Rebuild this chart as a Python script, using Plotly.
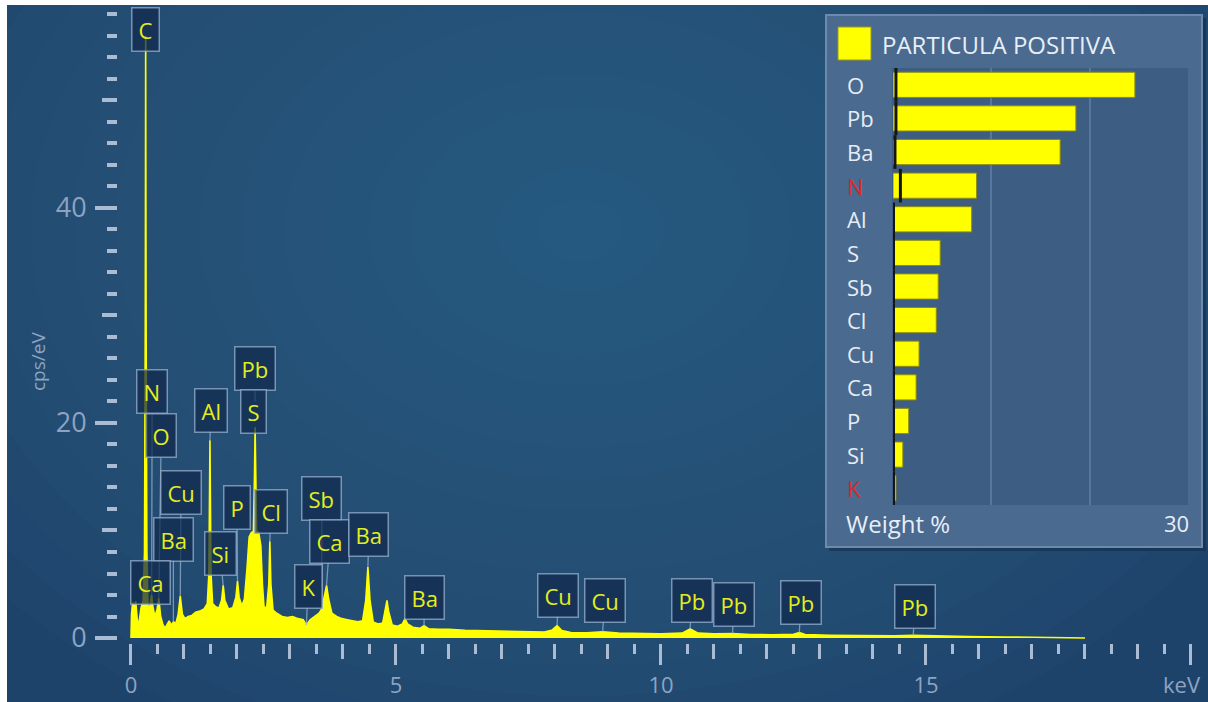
import plotly.graph_objects as go

W, H = 1208, 702
def px(x): return x / W
def py(y): return 1 - y / H

# ---------------- data ----------------
energy_kev = [0.00, 0.01, 0.03, 0.06, 0.09, 0.12, 0.15, 0.19, 0.23, 0.255, 0.27, 0.277, 0.285, 0.30,
              0.32, 0.35, 0.375, 0.39, 0.41, 0.45, 0.49, 0.525, 0.56, 0.60, 0.64, 0.68, 0.72, 0.76,
              0.80, 0.85, 0.89, 0.93, 0.97, 1.02, 1.08, 1.15, 1.22, 1.30, 1.38, 1.44, 1.47, 1.483,
              1.49, 1.497, 1.51, 1.54, 1.60, 1.66, 1.71, 1.74, 1.77, 1.84, 1.92, 1.98, 2.01, 2.04,
              2.09, 2.14, 2.19, 2.23, 2.27, 2.31, 2.33, 2.342, 2.355, 2.37, 2.41, 2.45, 2.48, 2.51,
              2.56, 2.60, 2.62, 2.64, 2.68, 2.75, 2.85, 2.95, 3.05, 3.15, 3.25, 3.31, 3.38, 3.47,
              3.55, 3.60, 3.65, 3.69, 3.73, 3.79, 3.88, 3.98, 4.08, 4.18, 4.28, 4.37, 4.43, 4.47,
              4.51, 4.57, 4.66, 4.75, 4.80, 4.83, 4.86, 4.93, 5.03, 5.12, 5.17, 5.22, 5.32, 5.45,
              5.53, 5.62, 5.80, 6.00, 6.30, 6.60, 7.00, 7.40, 7.80, 7.95, 8.04, 8.13, 8.30, 8.60,
              8.90, 9.20, 9.60, 10.0, 10.4, 10.55, 10.7, 11.0, 11.35, 11.7, 12.1, 12.5, 12.61, 12.72,
              13.2, 13.8, 14.4, 14.76, 15.2, 15.8, 16.5, 17.2, 17.8, 18.0]
counts_cps = [0.0, 2.2, 3.3, 2.9, 3.4, 1.6, 1.4, 2.8, 3.5, 8.0, 30.0, 56.0, 30.0, 8.0,
              3.2, 2.6, 3.6, 4.0, 3.0, 2.0, 2.6, 3.7, 2.0, 1.3, 0.9, 1.2, 1.6, 1.2,
              1.5, 1.4, 2.2, 3.9, 2.2, 1.8, 2.0, 2.1, 2.4, 2.5, 2.7, 3.2, 6.0, 14.0,
              18.4, 14.0, 6.0, 3.2, 2.9, 2.8, 3.5, 4.9, 3.5, 2.7, 2.8, 3.8, 5.3, 3.8,
              3.0, 3.6, 6.5, 9.4, 9.8, 9.9, 15.0, 19.6, 15.0, 9.9, 9.8, 8.6, 5.0, 2.9,
              2.8, 5.0, 9.0, 5.0, 2.6, 2.3, 2.0, 1.9, 2.0, 1.8, 1.7, 1.2, 1.7, 2.0,
              2.3, 2.7, 3.8, 4.9, 3.6, 2.3, 2.0, 1.8, 1.7, 1.6, 1.5, 1.6, 3.5, 6.6,
              3.5, 1.5, 1.3, 1.4, 2.6, 3.5, 2.5, 1.2, 1.1, 1.3, 1.8, 1.3, 1.0, 0.9,
              1.15, 0.85, 0.8, 0.8, 0.72, 0.68, 0.62, 0.58, 0.55, 0.75, 1.15, 0.7, 0.5, 0.48,
              0.58, 0.45, 0.42, 0.4, 0.45, 0.85, 0.45, 0.38, 0.42, 0.33, 0.3, 0.35, 0.5, 0.32,
              0.26, 0.22, 0.2, 0.25, 0.17, 0.13, 0.1, 0.06, 0.03, 0.0]

# peak labels: text, peak energy, peak height (cps)
peak_labels = ["C", "N", "O", "Cu", "Ba", "Ca", "Al", "Pb", "S", "Si", "P", "Cl", "Sb", "Ca",
               "K", "Ba", "Ba", "Cu", "Cu", "Pb", "Pb", "Pb", "Pb"]
peak_energy = [0.277, 0.39, 0.525, 0.93, 0.80, 0.34, 1.49, 2.342, 2.31, 1.74, 2.01, 2.62, 3.60, 3.69,
               3.31, 4.47, 5.53, 8.04, 8.90, 10.55, 11.35, 12.61, 14.76]
peak_height = [56.0, 4.0, 3.7, 3.9, 1.5, 3.0, 18.4, 22.0, 19.6, 4.9, 5.3, 9.0, 2.7, 4.9,
               1.2, 6.6, 1.15, 1.15, 0.58, 0.85, 0.42, 0.5, 0.25]
# label box centres (keV, cps) - layout positions
label_box_x = [0.283, 0.40, 0.57, 0.945, 0.80, 0.36, 1.51, 2.34, 2.31, 1.68, 2.00, 2.64, 3.60, 3.75,
               3.34, 4.49, 5.53, 8.06, 8.94, 10.58, 11.38, 12.64, 14.79]
label_box_y = [56.6, 22.9, 18.8, 13.5, 9.2, 5.2, 21.2, 25.1, 21.1, 7.9, 12.1, 11.8, 13.0, 9.0,
               4.8, 9.6, 3.8, 4.0, 3.5, 3.5, 3.1, 3.3, 2.9]

# inset: weight %
elements = ["O", "Pb", "Ba", "N", "Al", "S", "Sb", "Cl", "Cu", "Ca", "P", "Si", "K"]
weight_pct = [24.6, 18.6, 17.0, 8.5, 8.0, 4.8, 4.6, 4.4, 2.65, 2.35, 1.6, 1.0, 0.3]
sigma_mark = [0.3, 0.3, 0.2, 0.75, 0.05, 0.05, 0.05, 0.05, 0.05, 0.05, 0.05, 0.05, 0.05]
flagged = ["N", "K"]

x_tick_vals = [0, 5, 10, 15, 20]
x_tick_text = ["0", "5", "10", "15", ""]
y_tick_vals = [0, 20, 40]

# ---------------- styles ----------------
FONT = "Open Sans"
TICK_C = "#a9bcd4"
LABEL_C = "#8da4c1"
YEL = "#ffff00"
LBL_YEL = "#e3ee1c"

fig = go.Figure()

fig.add_trace(go.Scatter(
    x=energy_kev, y=counts_cps, mode="lines", fill="tozeroy",
    line=dict(color=YEL, width=1.6), fillcolor=YEL, hoverinfo="skip",
    xaxis="x", yaxis="y", showlegend=False))

# empty trace that registers the overlay tick axes
fig.add_trace(go.Scatter(x=[], y=[], xaxis="x3", yaxis="y3", showlegend=False, hoverinfo="skip"))

fig.add_trace(go.Bar(
    x=weight_pct, y=elements, orientation="h", marker=dict(color=YEL, line=dict(color="#8a8a10", width=1)),
    xaxis="x2", yaxis="y2", showlegend=False, name="PARTICULA POSITIVA"))

fig.add_trace(go.Scatter(
    x=sigma_mark, y=elements, mode="markers",
    marker=dict(symbol="line-ns", size=24, line=dict(color="#151515", width=3)),
    xaxis="x2", yaxis="y2", showlegend=False, hoverinfo="skip"))

# ---------------- shapes ----------------
shapes = []
# background radial glow
cx, cy = 580, 230
n = 18
for i in range(n):
    f = 1 - i / n
    rx, ry = 760 * f, 560 * f
    shapes.append(dict(type="circle", xref="paper", yref="paper", layer="below",
                       x0=px(cx - rx), x1=px(cx + rx), y0=py(cy + ry), y1=py(cy - ry),
                       fillcolor="rgba(72,128,185,0.028)", line=dict(width=0)))
# white border strips
shapes.append(dict(type="rect", xref="paper", yref="paper", layer="above",
                   x0=0, x1=px(7), y0=0, y1=1, fillcolor="white", line=dict(width=0)))
shapes.append(dict(type="rect", xref="paper", yref="paper", layer="above",
                   x0=0, x1=1, y0=py(5), y1=1, fillcolor="white", line=dict(width=0)))
# inset panel shadow + panel
shapes.append(dict(type="rect", xref="paper", yref="paper", layer="below",
                   x0=px(829), x1=px(1206), y0=py(551), y1=py(18),
                   fillcolor="rgba(10,25,50,0.35)", line=dict(width=0)))
shapes.append(dict(type="rect", xref="paper", yref="paper", layer="below",
                   x0=px(826), x1=px(1202), y0=py(547), y1=py(15),
                   fillcolor="#4a6a90", line=dict(color="#6d8aad", width=2)))
shapes.append(dict(type="rect", xref="paper", yref="paper", layer="below",
                   x0=px(892), x1=px(1188), y0=py(505), y1=py(68),
                   fillcolor="#3e5d83", line=dict(width=0)))
# legend swatch
shapes.append(dict(type="rect", xref="paper", yref="paper",
                   x0=px(838), x1=px(871), y0=py(60), y1=py(27),
                   fillcolor=YEL, line=dict(color="#9a9a20", width=1)))

# ---------------- annotations ----------------
ann = []
for t, ex, ey, bx, by in zip(peak_labels, peak_energy, peak_height, label_box_x, label_box_y):
    a = dict(text=t, xref="x", yref="y", font=dict(family=FONT, size=22, color=LBL_YEL),
             bgcolor="rgba(16,42,76,0.72)", bordercolor="rgba(150,175,205,0.75)", borderwidth=1.5,
             borderpad=6)
    if t == "C":
        a.update(x=bx, y=by, showarrow=False)
    else:
        a.update(x=ex, y=ey, ax=bx, ay=by, axref="x", ayref="y", showarrow=True,
                 arrowhead=0, arrowwidth=1.3, arrowcolor="rgba(150,175,205,0.75)")
    ann.append(a)

for el in elements:
    ann.append(dict(text=el, xref="paper", yref="y2", x=px(845), y=el, xanchor="left", yanchor="middle",
                    showarrow=False,
                    font=dict(family=FONT, size=22, color="#d82a2a" if el in flagged else "#e6edf5")))

TXT_C = "#e8eef6"
ann.append(dict(text="PARTICULA POSITIVA", xref="paper", yref="paper", x=px(880), y=py(45),
                xanchor="left", yanchor="middle", showarrow=False,
                font=dict(family=FONT, size=24, color=TXT_C)))
ann.append(dict(text="Weight %", xref="paper", yref="paper", x=px(844), y=py(523),
                xanchor="left", yanchor="middle", showarrow=False,
                font=dict(family=FONT, size=24, color=TXT_C)))
ann.append(dict(text="30", xref="paper", yref="paper", x=px(1191), y=py(523),
                xanchor="right", yanchor="middle", showarrow=False,
                font=dict(family=FONT, size=22, color=TXT_C)))
ann.append(dict(text="keV", xref="paper", yref="paper", x=px(1182), y=py(684),
                xanchor="center", yanchor="middle", showarrow=False,
                font=dict(family=FONT, size=22, color=LABEL_C)))
ann.append(dict(text="cps/eV", xref="paper", yref="paper", x=px(38), y=py(362), textangle=-90,
                xanchor="center", yanchor="middle", showarrow=False,
                font=dict(family=FONT, size=19, color=LABEL_C)))

x_rng = [-0.245, 20.01]
y_rng = [-0.465, 58.6]

fig.update_layout(
    width=W, height=H, autosize=False,
    margin=dict(l=0, r=0, t=0, b=0),
    paper_bgcolor="#1e436b", plot_bgcolor="rgba(0,0,0,0)",
    showlegend=False,
    xaxis=dict(domain=[px(118), px(1191.5)], range=x_rng, anchor="y",
               tickmode="array", tickvals=x_tick_vals, ticktext=x_tick_text,
               ticks="outside", ticklen=21, tickwidth=3, tickcolor=TICK_C,
               tickfont=dict(family=FONT, size=22, color=LABEL_C), ticklabelstandoff=2,
               showgrid=False, zeroline=False, showline=False, automargin=False,
               minor=dict(tickmode="array", tickvals=[i * 0.5 for i in range(0, 41) if i % 2 == 1],
                          ticks="outside", ticklen=10, tickwidth=3, tickcolor=TICK_C, showgrid=False)),
    xaxis3=dict(overlaying="x", range=x_rng, anchor="y3", side="bottom",
                tickmode="array", tickvals=[v for v in range(1, 20) if v % 5 != 0],
                ticks="outside", ticklen=15, tickwidth=3, tickcolor=TICK_C,
                showticklabels=False, showgrid=False, zeroline=False, showline=False),
    yaxis=dict(domain=[py(643), py(8)], range=y_rng, anchor="x",
               tickmode="array", tickvals=y_tick_vals,
               ticks="outside", ticklen=22, tickwidth=3.5, tickcolor=TICK_C,
               tickfont=dict(family=FONT, size=27, color=LABEL_C), ticklabelstandoff=3,
               showgrid=False, zeroline=False, showline=False, automargin=False,
               minor=dict(tickmode="array", tickvals=[v for v in range(2, 59, 2) if v % 10 != 0],
                          ticks="outside", ticklen=10, tickwidth=3.5, tickcolor=TICK_C, showgrid=False)),
    yaxis3=dict(overlaying="y", range=y_rng, anchor="x3", side="left",
                tickmode="array", tickvals=[10, 30, 50],
                ticks="outside", ticklen=15, tickwidth=3.5, tickcolor=TICK_C,
                showticklabels=False, showgrid=False, zeroline=False, showline=False),
    xaxis2=dict(domain=[px(893), px(1188)], range=[0, 30], anchor="y2",
                showgrid=True, gridcolor="#58779c", gridwidth=1.5, dtick=10, tick0=0,
                showticklabels=False, zeroline=False, showline=False, ticks=""),
    yaxis2=dict(domain=[py(505), py(68)], anchor="x2", type="category",
                categoryorder="array", categoryarray=elements, range=[12.5, -0.5],
                showticklabels=False, showgrid=False, zeroline=False, showline=False, ticks=""),
    bargap=0.25,
    shapes=shapes,
    annotations=ann,
)

fig.write_html("out.html")
